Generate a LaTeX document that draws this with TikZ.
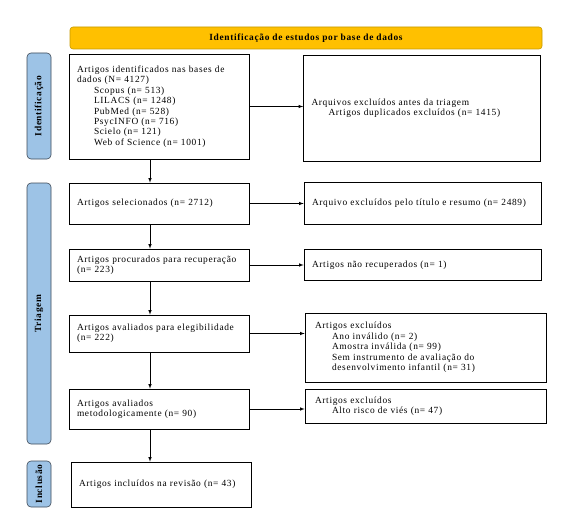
\documentclass[tikz,border=0pt]{standalone}
\usepackage{fontspec}
\setmainfont{Liberation Serif}[LetterSpace=7]
\usetikzlibrary{positioning}

\definecolor{hdr}{HTML}{FFC000}
\definecolor{hdrline}{HTML}{C59A00}
\definecolor{fasefill}{HTML}{9DC3E6}
\definecolor{faseline}{HTML}{3F4A57}

\tikzset{
  titulo/.style={draw=hdrline, fill=hdr, rectangle, rounded corners=3pt,
                 font=\fontsize{9.4}{10}\selectfont\bfseries},
  fase/.style={draw=faseline, fill=fasefill, rectangle, rounded corners=4pt,
               rotate=90, minimum height=24pt, inner sep=0pt,
               font=\fontsize{9.4}{10}\selectfont\bfseries},
  caixa/.style={draw, rectangle, align=left, inner xsep=8pt, inner ysep=2pt},
  esq/.style={caixa, text width=164pt, minimum width=180pt},
  dir/.style={caixa, text width=221pt, minimum width=237pt},
}
\newcommand{\ind}{\hspace*{17pt}}

\begin{document}
\begin{tikzpicture}[>=latex, x=1pt, y=-1pt, line width=0.6pt,
                    font=\fontsize{9.4}{10.4}\selectfont]
        \useasboundingbox (0,0) rectangle (565,519);
        \node[titulo, minimum width=472pt, minimum height=22pt]
            (tit) at (306,38) {Identificação de estudos por base de dados};
        %% fases (lado esquerdo)
        \node[fase, minimum width=106pt] (fid) at (39,106) {Identificação};
        \node[fase, minimum width=261pt] (ftr) at (39,313.5) {Triagem};
        \node[fase, minimum width=46pt]  (fin) at (39,484) {Inclusão};
        %% coluna principal
        \node[esq, minimum height=105pt] (art) at (159,106.5)
            {Artigos identificados nas bases de\\dados (N= 4127)\\
             \ind Scopus (n= 513)\\ \ind LILACS (n= 1248)\\
             \ind PubMed (n= 528)\\ \ind PsycINFO (n= 716)\\
             \ind Scielo (n= 121)\\ \ind Web of Science (n= 1001)};
        \node[esq, minimum height=41pt] (sel) at (159,203.5)
            {Artigos selecionados (n= 2712)};
        \node[esq, minimum height=32pt] (proc) at (159,265)
            {Artigos procurados para recuperação\\(n= 223)};
        \node[esq, minimum height=37pt] (aval) at (159,333.5)
            {Artigos avaliados para elegibilidade\\(n= 222)};
        \node[esq, minimum height=40pt] (met) at (159,409)
            {Artigos avaliados\\metodologicamente (n= 90)};
        \node[esq, minimum height=45pt] (inc) at (161,484.5)
            {Artigos incluídos na revisão (n= 43)};
        %% coluna dos excluidos
        \node[dir, minimum height=106pt] (ex1) at (422,108)
            {Arquivos excluídos antes da triagem\\
             \ind Artigos duplicados excluídos (n= 1415)};
        \node[dir, minimum height=42pt] (ex2) at (422.5,203)
            {Arquivo excluídos pelo título e resumo (n= 2489)};
        \node[dir, minimum height=31pt] (ex3) at (422.5,265)
            {Artigos não recuperados (n= 1)};
        \node[dir, minimum height=69pt, minimum width=241pt] (ex4) at (425.5,347.5)
            {Artigos excluídos\\ \ind Ano inválido (n= 2)\\
             \ind Amostra inválida (n= 99)\\
             \ind Sem instrumento de avaliação do\\
             \ind desenvolvimento infantil (n= 31)};
        \node[dir, minimum height=34pt, minimum width=241pt] (ex5) at (425.5,406)
            {Artigos excluídos\\ \ind Alto risco de viés (n= 47)};
        %% setas verticais
        \draw[->] ([xshift=-9pt]art.south)  -- ([xshift=-9pt]sel.north);
        \draw[->] ([xshift=-9pt]sel.south)  -- ([xshift=-9pt]proc.north);
        \draw[->] ([xshift=-9pt]proc.south) -- ([xshift=-9pt]aval.north);
        \draw[->] ([xshift=-9pt]aval.south) -- ([xshift=-9pt]met.north);
        \draw[->] ([xshift=-9pt]met.south)  -- ([xshift=-9pt]met.south |- inc.north);
        %% setas horizontais
        \draw[->] (art.east)  -- (art.east -| ex1.west);
        \draw[->] (sel.east)  -- (sel.east -| ex2.west);
        \draw[->] (proc.east) -- (proc.east -| ex3.west);
        \draw[->] (aval.east) -- (aval.east -| ex4.west);
        \draw[->] (met.east)  -- (met.east -| ex5.west);
    \end{tikzpicture}
\end{document}
